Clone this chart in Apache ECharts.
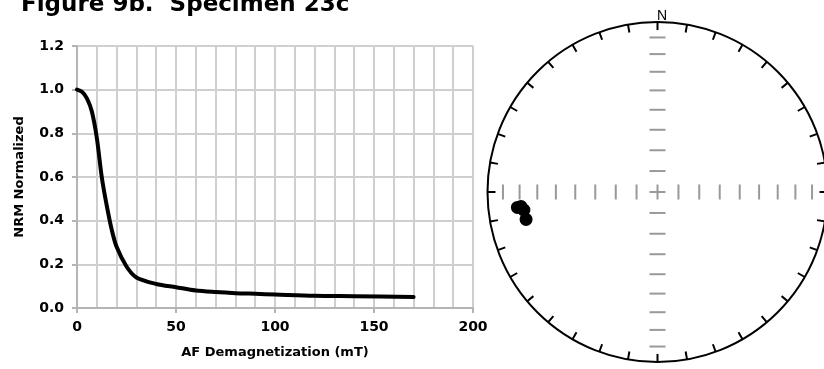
<!DOCTYPE html>
<html><head><meta charset="utf-8">
<script src="https://cdn.jsdelivr.net/npm/echarts@6/dist/echarts.min.js"></script>
<style>html,body{margin:0;padding:0;background:#fff}#c{width:824px;height:369px}</style>
</head><body><div id="c"></div>
<script>
// Demagnetization curve
var afField = [0, 2.5, 5, 7.5, 10, 12.5, 15, 17.5, 20, 25, 30, 40, 50, 60, 70, 80, 90, 100, 120, 140, 170];
var nrmNorm = [1.0, 0.99, 0.96, 0.90, 0.78, 0.60, 0.47, 0.36, 0.28, 0.19, 0.14, 0.11, 0.095, 0.08, 0.073, 0.068, 0.065, 0.062, 0.056, 0.054, 0.05];
// Stereonet directions (lower hemisphere)
var declination = [263.7, 263.9, 262.3, 258.2];
var inclination = [18.2, 20.4, 21.8, 22.1];
// Diameter graticule inclinations
var gratInc = [90, 80, 70, 60, 50, 40, 30, 20, 10];

function eqArea(inc) { return Math.SQRT2 * Math.sin((90 - inc) / 2 * Math.PI / 180); }

var FONT = 'DejaVu Sans';
var chart = echarts.init(document.getElementById('c'), null, {renderer: 'canvas'});

var gratNS = [], gratEW = [];
gratInc.forEach(function (i) {
  var r = eqArea(i);
  gratNS.push([r, 0]); if (i !== 90) gratNS.push([r, 180]);
  gratEW.push([r, 90]); if (i !== 90) gratEW.push([r, 270]);
});
var dirs = declination.map(function (d, k) { return [eqArea(inclination[k]), d]; });

chart.setOption({
  animation: false,
  backgroundColor: '#fff',
  title: [
    {text: 'Figure 9b.  Specimen 23c', left: 16, top: -11,
     textStyle: {fontFamily: FONT, fontWeight: 'bold', fontSize: 23, color: '#000'}},
    {text: 'N', left: 652, top: 4,
     textStyle: {fontFamily: 'Liberation Sans', fontWeight: 'normal', fontSize: 14, color: '#000'}}
  ],
  grid: {left: 77, top: 46, width: 396, height: 262, containLabel: false},
  xAxis: {
    type: 'value', min: 0, max: 200, interval: 50,
    name: 'AF Demagnetization (mT)', nameLocation: 'middle', nameGap: 38,
    nameTextStyle: {fontFamily: FONT, fontWeight: 'bold', fontSize: 13, color: '#000'},
    axisLine: {show: true, onZero: false, lineStyle: {color: '#b4b4b4', width: 2}},
    axisTick: {show: true, length: 5, lineStyle: {color: '#b4b4b4', width: 2}},
    axisLabel: {fontFamily: FONT, fontWeight: 'bold', fontSize: 14, color: '#000', margin: 12},
    splitLine: {show: true, lineStyle: {color: '#cfcfcf', width: 2}},
    minorTick: {show: false, splitNumber: 5},
    minorSplitLine: {show: true, lineStyle: {color: '#cfcfcf', width: 2}}
  },
  yAxis: {
    type: 'value', min: 0, max: 1.2, interval: 0.2,
    name: 'NRM Normalized', nameLocation: 'middle', nameGap: 51, nameRotate: 90,
    nameTextStyle: {fontFamily: FONT, fontWeight: 'bold', fontSize: 13, color: '#000'},
    axisLine: {show: true, lineStyle: {color: '#b4b4b4', width: 2}},
    axisTick: {show: true, length: 5, lineStyle: {color: '#b4b4b4', width: 2}},
    axisLabel: {fontFamily: FONT, fontWeight: 'bold', fontSize: 14, color: '#000', margin: 13,
      formatter: function (v) { return v.toFixed(1); }},
    splitLine: {show: true, lineStyle: {color: '#cfcfcf', width: 2}}
  },
  polar: {center: [657.5, 192], radius: 170},
  angleAxis: {
    type: 'value', min: 0, max: 360, interval: 10, startAngle: 90, clockwise: true,
    axisLine: {show: true, lineStyle: {color: '#000', width: 2}},
    axisTick: {show: true, inside: true, length: 8, lineStyle: {color: '#000', width: 2}},
    axisLabel: {show: false}, splitLine: {show: false}
  },
  radiusAxis: {
    type: 'value', min: 0, max: 1,
    axisLine: {show: false}, axisTick: {show: false}, axisLabel: {show: false}, splitLine: {show: false}
  },
  series: [
    {type: 'line', xAxisIndex: 0, yAxisIndex: 0, data: afField.map(function (x, i) { return [x, nrmNorm[i]]; }),
     showSymbol: false, smooth: 0.3, lineStyle: {color: '#000', width: 4, cap: 'round', join: 'round'}},
    {type: 'scatter', coordinateSystem: 'polar', data: gratNS, symbol: 'rect', symbolSize: [16, 2],
     itemStyle: {color: '#999', opacity: 1}, silent: true},
    {type: 'scatter', coordinateSystem: 'polar', data: gratEW, symbol: 'rect', symbolSize: [2, 15],
     itemStyle: {color: '#999', opacity: 1}, silent: true},
    {type: 'scatter', coordinateSystem: 'polar', data: dirs, symbol: 'circle', symbolSize: 13,
     itemStyle: {color: '#000', opacity: 1}}
  ]
});
</script></body></html>
